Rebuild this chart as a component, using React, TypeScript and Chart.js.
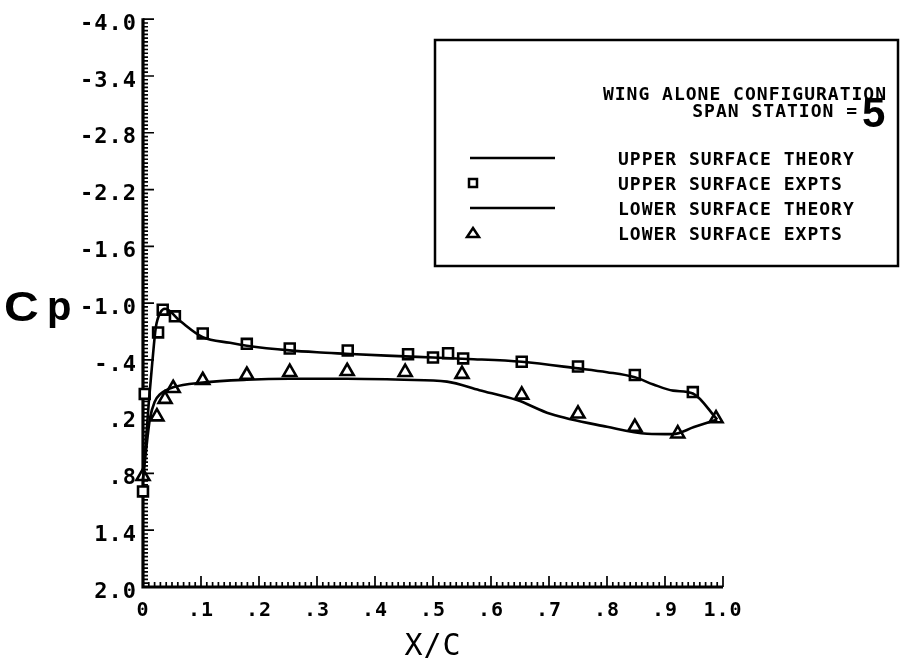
import React, { useEffect, useRef } from 'react';
import { Chart, registerables } from 'chart.js';

Chart.register(...registerables);

// ---- data ----
const upperTheoryX = [0, 0.005, 0.01, 0.016, 0.022, 0.03, 0.038, 0.064, 0.103, 0.15, 0.179, 0.253, 0.3, 0.35, 0.42, 0.5, 0.56, 0.653, 0.75, 0.8, 0.848, 0.88, 0.914, 0.948, 0.99];
const upperTheoryCp = [0.86, 0.46, 0.05, -0.37, -0.74, -0.9, -0.94, -0.81, -0.64, -0.58, -0.55, -0.5, -0.48, -0.465, -0.445, -0.425, -0.41, -0.38, -0.31, -0.27, -0.216, -0.14, -0.075, -0.045, 0.23];

const upperExpX = [0, 0.003, 0.026, 0.034, 0.055, 0.103, 0.179, 0.253, 0.353, 0.457, 0.5, 0.526, 0.552, 0.653, 0.75, 0.848, 0.948];
const upperExpCp = [0.99, -0.04, -0.69, -0.93, -0.86, -0.68, -0.57, -0.52, -0.5, -0.46, -0.425, -0.47, -0.415, -0.38, -0.33, -0.24, -0.06];

const lowerTheoryX = [0, 0.007, 0.012, 0.02, 0.03, 0.052, 0.103, 0.179, 0.253, 0.352, 0.45, 0.524, 0.58, 0.645, 0.702, 0.8, 0.869, 0.914, 0.95, 0.99];
const lowerTheoryCp = [0.86, 0.46, 0.22, 0.045, -0.04, -0.11, -0.16, -0.19, -0.2, -0.2, -0.19, -0.17, -0.08, 0.025, 0.17, 0.307, 0.38, 0.385, 0.31, 0.23];

const lowerExpX = [0, 0.024, 0.038, 0.052, 0.103, 0.179, 0.253, 0.352, 0.452, 0.55, 0.653, 0.75, 0.848, 0.922, 0.988];
const lowerExpCp = [0.83, 0.2, 0.015, -0.1, -0.185, -0.24, -0.27, -0.28, -0.27, -0.25, -0.03, 0.17, 0.31, 0.38, 0.22];

const xTickValues = [0, 0.1, 0.2, 0.3, 0.4, 0.5, 0.6, 0.7, 0.8, 0.9, 1.0];
const xTickLabels = ['0', '.1', '.2', '.3', '.4', '.5', '.6', '.7', '.8', '.9', '1.0'];
const yTickValues = [-4.0, -3.4, -2.8, -2.2, -1.6, -1.0, -0.4, 0.2, 0.8, 1.4, 2.0];
const yTickLabels = ['-4.0', '-3.4', '-2.8', '-2.2', '-1.6', '-1.0', '-.4', '.2', '.8', '1.4', '2.0'];

const xTitle = 'X/C';
const yTitleMain = 'C';
const yTitleSub = 'p';
const legendTitle1 = 'WING ALONE CONFIGURATION';
const legendTitle2 = 'SPAN STATION =';
const spanStation = '5';
const seriesNames = ['UPPER SURFACE THEORY', 'UPPER SURFACE EXPTS', 'LOWER SURFACE THEORY', 'LOWER SURFACE EXPTS'];

const MONO = "'DejaVu Sans Mono', monospace";

const toPoints = (xs: number[], ys: number[]) => xs.map((x, i) => ({ x, y: ys[i] }));

const plotterPlugin = {
  id: 'plotter',
  beforeDraw(chart: any) {
    (chart.ctx as any).letterSpacing = '1px';
  },
  beforeDatasetsDraw(chart: any) {
    const { ctx, chartArea: a, scales } = chart;
    const x = scales.x;
    const y = scales.y;
    ctx.save();
    ctx.strokeStyle = '#000';
    ctx.lineWidth = 3.2;
    ctx.beginPath();
    ctx.moveTo(a.left, a.top - 1);
    ctx.lineTo(a.left, a.bottom);
    ctx.lineTo(a.right, a.bottom);
    ctx.stroke();
    ctx.lineWidth = 1.7;
    ctx.beginPath();
    for (let i = 0; i <= 100; i++) {
      const px = x.getPixelForValue(i / 100);
      const len = i % 10 === 0 ? 11 : 5;
      ctx.moveTo(px, a.bottom);
      ctx.lineTo(px, a.bottom - len);
    }
    for (let i = 0; i <= 150; i++) {
      const py = y.getPixelForValue(-4 + i * 0.04);
      const len = i % 15 === 0 ? 11 : 5;
      ctx.moveTo(a.left, py);
      ctx.lineTo(a.left + len, py);
    }
    ctx.stroke();
    ctx.restore();
  },
  afterDraw(chart: any) {
    const { ctx } = chart;
    ctx.save();
    ctx.fillStyle = '#000';
    ctx.strokeStyle = '#000';
    // Cp label
    ctx.letterSpacing = '0px';
    ctx.textAlign = 'left';
    ctx.textBaseline = 'alphabetic';
    ctx.save();
    ctx.translate(4, 321);
    ctx.scale(1.12, 1);
    ctx.font = "bold 43px 'Liberation Sans', sans-serif";
    ctx.fillText(yTitleMain, 0, 0);
    ctx.restore();
    ctx.font = "bold 40px 'Liberation Sans', sans-serif";
    ctx.fillText(yTitleSub, 47, 320);

    // legend box
    ctx.lineWidth = 2.5;
    ctx.strokeRect(435, 40, 463, 226);
    ctx.letterSpacing = '1px';
    ctx.font = `bold 18px ${MONO}`;
    ctx.textAlign = 'right';
    ctx.fillText(legendTitle1, 887, 100);
    ctx.fillText(legendTitle2, 858, 117);
    ctx.letterSpacing = '0px';
    ctx.textAlign = 'left';
    ctx.font = "bold 42px 'Liberation Sans', sans-serif";
    ctx.fillText(spanStation, 862, 127);

    ctx.letterSpacing = '1px';
    ctx.font = `bold 18px ${MONO}`;
    const rows = [158, 183, 208, 233];
    rows.forEach((cy, i) => ctx.fillText(seriesNames[i], 618, cy + 7));

    // legend symbols
    ctx.lineWidth = 2.5;
    ctx.beginPath();
    ctx.moveTo(470, rows[0]);
    ctx.lineTo(555, rows[0]);
    ctx.moveTo(470, rows[2]);
    ctx.lineTo(555, rows[2]);
    ctx.stroke();
    ctx.fillStyle = '#fff';
    ctx.lineWidth = 2.5;
    ctx.beginPath();
    ctx.rect(469, rows[1] - 4, 8, 8);
    ctx.fill();
    ctx.stroke();
    ctx.beginPath();
    ctx.moveTo(473, rows[3] - 5);
    ctx.lineTo(479, rows[3] + 4);
    ctx.lineTo(467, rows[3] + 4);
    ctx.closePath();
    ctx.fill();
    ctx.stroke();
    ctx.restore();
  },
};

export default function App() {
  const canvasRef = useRef<HTMLCanvasElement | null>(null);

  useEffect(() => {
    const canvas = canvasRef.current;
    if (!canvas) return;
    const lineStyle = {
      showLine: true,
      pointRadius: 0,
      borderColor: '#000',
      borderWidth: 2.6,
      cubicInterpolationMode: 'monotone' as const,
      clip: false as any,
    };
    const markStyle = {
      showLine: false,
      borderColor: '#000',
      backgroundColor: '#fff',
      borderWidth: 2.6,
      pointBorderWidth: 2.6,
      clip: false as any,
    };
    const chart = new Chart(canvas, {
      type: 'scatter',
      data: {
        datasets: [
          { ...lineStyle, label: seriesNames[0], data: toPoints(upperTheoryX, upperTheoryCp) },
          { ...lineStyle, label: seriesNames[2], data: toPoints(lowerTheoryX, lowerTheoryCp) },
          { ...markStyle, label: seriesNames[1], data: toPoints(upperExpX, upperExpCp), pointStyle: 'rect', pointRadius: 7 },
          { ...markStyle, label: seriesNames[3], data: toPoints(lowerExpX, lowerExpCp), pointStyle: 'triangle', pointRadius: 7.5 },
        ],
      },
      options: {
        responsive: false,
        animation: false,
        devicePixelRatio: 1,
        events: [],
        layout: { padding: { left: 0, top: 13, right: 178, bottom: 0 } },
        plugins: {
          legend: { display: false },
          tooltip: { enabled: false },
          title: { display: false },
        },
        scales: {
          x: {
            type: 'linear',
            min: 0,
            max: 1,
            grid: { display: false, drawTicks: false },
            border: { display: false },
            afterBuildTicks: (scale: any) => {
              scale.ticks = xTickValues.map((v) => ({ value: v }));
            },
            afterFit: (scale: any) => {
              scale.height = 76;
            },
            ticks: {
              autoSkip: false,
              maxRotation: 0,
              padding: 12,
              color: '#000',
              font: { family: MONO, size: 20, weight: 'bold' },
              callback: (_v: any, i: number) => xTickLabels[i],
            },
            title: {
              display: true,
              text: xTitle,
              color: '#000',
              font: { family: MONO, size: 30, weight: 'normal', lineHeight: 1.07 },
              padding: { top: 0, bottom: 0 },
            },
          },
          y: {
            type: 'linear',
            min: -4,
            max: 2,
            reverse: true,
            grid: { display: false, drawTicks: false },
            border: { display: false },
            afterBuildTicks: (scale: any) => {
              scale.ticks = yTickValues.map((v) => ({ value: v }));
            },
            afterFit: (scale: any) => {
              scale.width = 143;
            },
            ticks: {
              autoSkip: false,
              padding: 6,
              labelOffset: 5,
              color: '#000',
              font: { family: MONO, size: 22, weight: 'bold' },
              callback: (_v: any, i: number) => yTickLabels[i],
            },
          },
        },
      },
      plugins: [plotterPlugin],
    } as any);
    return () => chart.destroy();
  }, []);

  return (
    <div style={{ position: 'fixed', left: 0, top: 0, width: 901, height: 663, background: '#fff' }}>
      <canvas ref={canvasRef} width={901} height={663} style={{ width: 901, height: 663, display: 'block' }} />
    </div>
  );
}
